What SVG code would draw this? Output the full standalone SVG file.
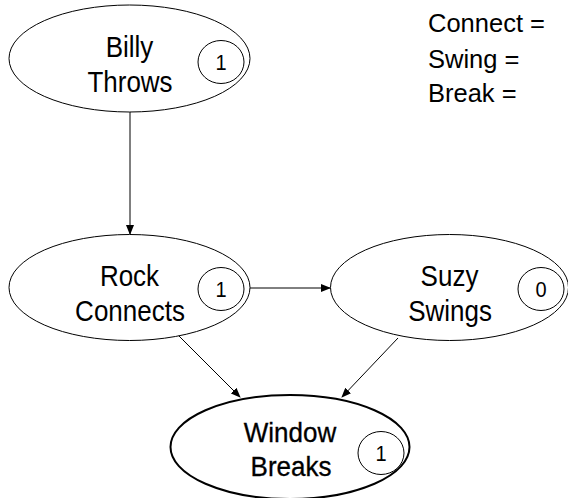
<svg xmlns="http://www.w3.org/2000/svg" width="568" height="498" viewBox="0 0 568 498">
<style>
text{font-family:"Liberation Sans",Arial,Helvetica,sans-serif;fill:#000}
.lbl{font-size:26px;text-anchor:middle}
.wl{font-size:26px;text-anchor:middle;stroke:#000;stroke-width:0.3}
.num{font-size:20px;text-anchor:middle}
.leg{font-size:25.5px}
.node{fill:#fff;stroke:#000;stroke-width:1}
.bold{stroke-width:2}
.edge{stroke:#000;stroke-width:1;fill:none;marker-end:url(#ah)}
</style>
<defs>
<marker id="ah" markerWidth="10" markerHeight="8" refX="9" refY="4" orient="auto" markerUnits="userSpaceOnUse">
<path d="M0,0 L10,4 L0,8 Z" fill="#000"/>
</marker>
</defs>
<rect width="568" height="498" fill="#fff"/>
<g id="connectors">
<line class="edge" x1="130" y1="112" x2="130" y2="234"/>
<line class="edge" x1="250" y1="288" x2="330" y2="288"/>
<line class="edge" x1="178" y1="335" x2="240" y2="397"/>
<line class="edge" x1="398" y1="338" x2="342" y2="397"/>
</g>
<g id="billy">
<ellipse class="node" cx="129.5" cy="58.5" rx="120.5" ry="53.5"/>
<ellipse class="node" cx="221" cy="62" rx="23" ry="21.5"/>
<text class="lbl" transform="translate(129.5,57) scale(1,1.15)">Billy</text>
<text class="lbl" transform="translate(130,92) scale(1,1.15)">Throws</text>
<text class="num" transform="translate(221,69.5) scale(1,1.12)">1</text>
</g>
<g id="rock">
<ellipse class="node" cx="129.5" cy="287.5" rx="120.5" ry="53"/>
<ellipse class="node" cx="221" cy="289" rx="23" ry="21.5"/>
<text class="lbl" transform="translate(129.5,286) scale(1,1.15)">Rock</text>
<text class="lbl" transform="translate(130,321) scale(1,1.15)">Connects</text>
<text class="num" transform="translate(221,296.5) scale(1,1.12)">1</text>
</g>
<g id="suzy">
<ellipse class="node" cx="449.5" cy="287.5" rx="119" ry="53"/>
<ellipse class="node" cx="541" cy="289" rx="23" ry="21.5"/>
<text class="lbl" transform="translate(449.5,286) scale(1,1.15)">Suzy</text>
<text class="lbl" transform="translate(450,321) scale(1,1.15)">Swings</text>
<text class="num" transform="translate(541,296.5) scale(1,1.12)">0</text>
</g>
<g id="window">
<ellipse class="node bold" cx="290" cy="447" rx="119.5" ry="52"/>
<ellipse class="node" cx="381" cy="453" rx="23" ry="21.5"/>
<text class="wl" transform="translate(290,442) scale(1,1.05)">Window</text>
<text class="wl" transform="translate(291,476) scale(1,1.05)">Breaks</text>
<text class="num" transform="translate(381,460.5) scale(1,1.12)">1</text>
</g>
<g id="legend">
<text class="leg" x="428" y="32">Connect =</text>
<text class="leg" x="428" y="68">Swing =</text>
<text class="leg" x="428" y="102">Break =</text>
</g>
</svg>
